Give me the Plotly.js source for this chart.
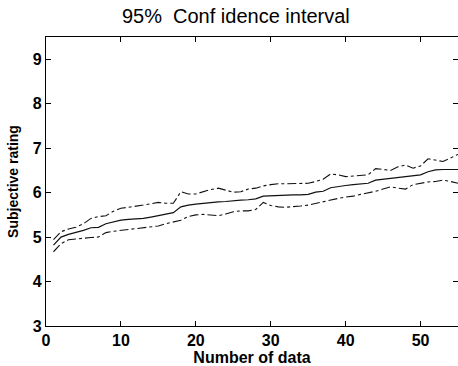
<!DOCTYPE html>
<html>
<head>
<meta charset="utf-8">
<script src="https://cdn.plot.ly/plotly-3.0.1.min.js"></script>
<style>html,body{margin:0;padding:0;background:#fff;}</style>
</head>
<body>
<div id="chart" style="width:458px;height:366px;"></div>
<script>
const nData = [1,2,3,4,5,6,7,8,9,10,11,12,13,14,15,16,17,18,19,20,21,22,23,24,25,26,27,28,29,30,31,32,33,34,35,36,37,38,39,40,41,42,43,44,45,46,47,48,49,50,51,52,53,54,55];
const meanRating = [4.82,5.00,5.06,5.10,5.15,5.21,5.22,5.30,5.34,5.38,5.40,5.41,5.42,5.45,5.48,5.51,5.55,5.68,5.72,5.74,5.76,5.78,5.79,5.80,5.82,5.83,5.84,5.86,5.92,5.93,5.94,5.94,5.95,5.95,5.96,6.01,6.03,6.11,6.14,6.16,6.18,6.20,6.21,6.28,6.30,6.32,6.35,6.37,6.38,6.40,6.47,6.51,6.52,6.52,6.52];
const upperCI = [4.94,5.12,5.18,5.22,5.30,5.42,5.46,5.48,5.58,5.65,5.67,5.69,5.72,5.75,5.78,5.76,5.76,6.02,5.97,5.97,6.02,6.07,6.10,6.06,6.01,6.02,6.08,6.10,6.15,6.18,6.20,6.20,6.20,6.20,6.21,6.25,6.30,6.42,6.40,6.36,6.37,6.38,6.40,6.54,6.52,6.50,6.58,6.62,6.55,6.60,6.76,6.73,6.70,6.78,6.86];
const lowerCI = [4.67,4.85,4.94,4.96,4.97,4.99,5.00,5.10,5.13,5.15,5.16,5.18,5.20,5.22,5.25,5.30,5.34,5.38,5.46,5.50,5.51,5.50,5.48,5.52,5.57,5.59,5.59,5.62,5.78,5.71,5.68,5.67,5.68,5.70,5.72,5.76,5.80,5.84,5.87,5.90,5.92,5.96,5.99,6.03,6.08,6.13,6.10,6.08,6.18,6.21,6.24,6.25,6.28,6.25,6.21];
const xTicks = [0,10,20,30,40,50];
const yTicks = [3,4,5,6,7,8,9];

const traces = [
  {x: nData, y: upperCI, mode: 'lines', line: {color: '#111', width: 1.1, dash: 'dashdot'}, showlegend: false, hoverinfo: 'skip'},
  {x: nData, y: meanRating, mode: 'lines', line: {color: '#111', width: 1.2}, showlegend: false, hoverinfo: 'skip'},
  {x: nData, y: lowerCI, mode: 'lines', line: {color: '#111', width: 1.1, dash: 'dashdot'}, showlegend: false, hoverinfo: 'skip'}
];

const font = {family: 'Liberation Sans, Arial, sans-serif', color: '#000'};
const layout = {
  width: 458, height: 366,
  margin: {l: 46, r: 0, t: 37, b: 40, pad: 0},
  paper_bgcolor: '#fff', plot_bgcolor: '#fff',
  font: font,
  title: {text: '95%\u00A0 Conf idence interval', font: {family: font.family, size: 20, color: '#000'}, x: 0.515, xref: 'container', y: 0.955, yref: 'container', yanchor: 'middle'},
  xaxis: {
    range: [0, 55], tickvals: xTicks, ticktext: xTicks.map(String),
    showgrid: false, zeroline: false, showline: true, linecolor: '#000', linewidth: 1.1,
    mirror: 'ticks', ticks: 'inside', ticklen: 5, tickcolor: '#000',
    tickfont: {family: font.family, size: 16, weight: 'bold', color: '#000'},
    title: {text: 'Number of data', font: {family: font.family, size: 16, weight: 'bold', color: '#000'}, standoff: 0}
  },
  yaxis: {
    range: [3, 9.5], tickvals: yTicks, ticktext: yTicks.map(String),
    showgrid: false, zeroline: false, showline: true, linecolor: '#000', linewidth: 1.1,
    mirror: 'ticks', ticks: 'inside', ticklen: 5, tickcolor: '#000',
    tickfont: {family: font.family, size: 16, weight: 'bold', color: '#000'},
    title: {text: 'Subjective rating', font: {family: font.family, size: 14, weight: 'bold', color: '#000'}, standoff: 10}
  }
};

Plotly.newPlot('chart', traces, layout, {staticPlot: true, displayModeBar: false});
</script>
</body>
</html>
